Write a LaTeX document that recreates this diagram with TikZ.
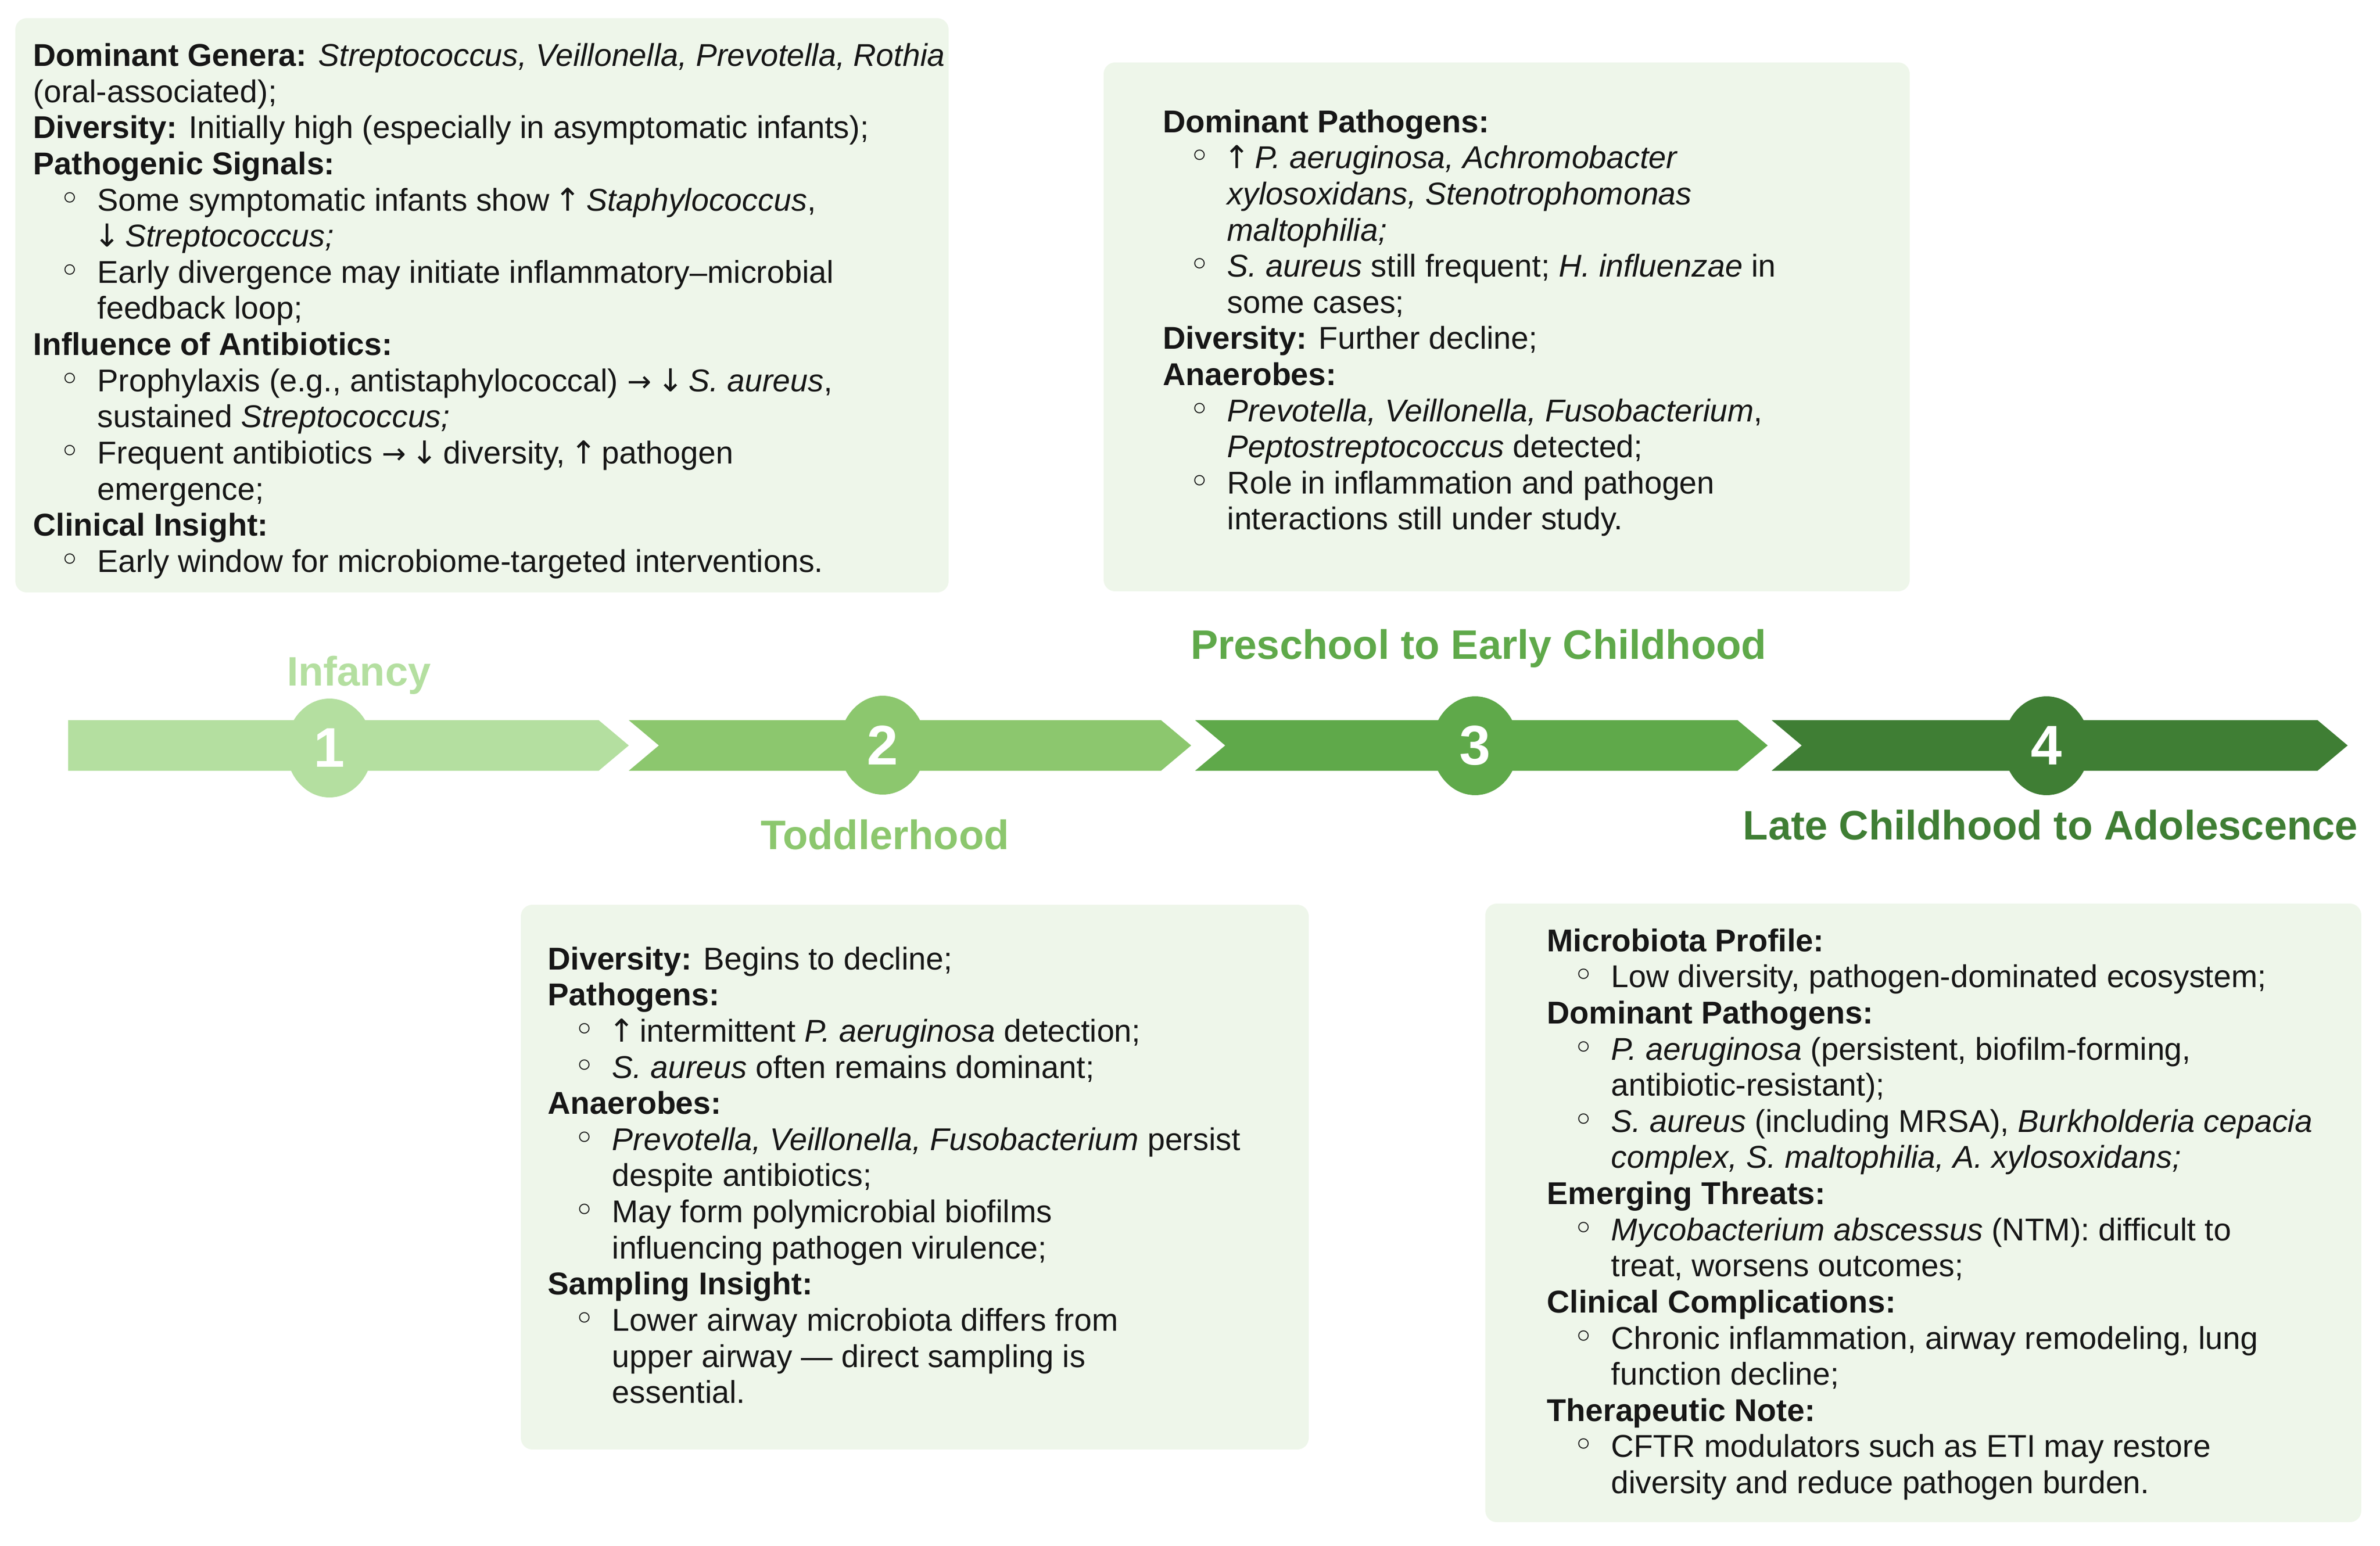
\documentclass[tikz,border=0pt]{standalone}
\usepackage{fontspec}
\setmainfont{Liberation Sans}
\newfontfamily\symfont{DejaVu Sans}
\usepackage{xcolor}
\definecolor{StageOne}{RGB}{180,223,160}
\definecolor{StageTwo}{RGB}{140,199,110}
\definecolor{StageThree}{RGB}{95,169,74}
\definecolor{StageFour}{RGB}{63,126,52}
\definecolor{PanelFill}{RGB}{238,246,234}
\definecolor{Ink}{RGB}{22,22,22}
\usetikzlibrary{shapes.geometric}
\newcommand{\itm}{\hspace*{4.6mm}\makebox[6.7mm][l]{\symfont\fontsize{18}{18.1}\selectfont ◦}}
\newcommand{\cnt}{\hspace*{11.3mm}}
\newcommand{\up}{\makebox[0.6em]{\symfont ↑}}
\newcommand{\down}{\makebox[0.6em]{\symfont ↓}}
\newcommand{\tto}{\makebox[0.8em]{\symfont\fontsize{14.5}{18.1}\selectfont →}}

\begin{document}
\begin{tikzpicture}[
	stagenum/.style={ellipse, minimum width=15.2mm, minimum height=17.4mm, inner sep=0pt, text=white, font=\fontsize{28}{30}\selectfont\bfseries},
	stagename/.style={anchor=base, font=\fontsize{20.6}{24}\selectfont\bfseries},
	panel/.style={fill=PanelFill, rounded corners=2mm},
	paneltext/.style={anchor=north west, inner sep=0pt, align=left, text=Ink, font=\fontsize{15.8}{18.1}\selectfont}]
		
		\useasboundingbox (0,0) rectangle (41.90,-27.22);
		
		% Panels
		\fill[panel] (0.27,-0.32) rectangle (16.70,-10.43);
		\fill[panel] (19.43,-1.10) rectangle (33.62,-10.41);
		\fill[panel] (9.17,-15.93) rectangle (23.04,-25.52);
		\fill[panel] (26.15,-15.91) rectangle (41.57,-26.80);
		
		% Timeline
		\fill[StageOne] (1.20,-12.68) -- (10.54,-12.68) -- (11.07,-13.125) -- (10.54,-13.57) -- (1.20,-13.57) -- cycle;
		\fill[StageTwo] (11.07,-12.68) -- (20.44,-12.68) -- (20.97,-13.125) -- (20.44,-13.57) -- (11.07,-13.57) -- (11.60,-13.125) -- cycle;
		\fill[StageThree] (21.04,-12.68) -- (30.59,-12.68) -- (31.12,-13.125) -- (30.59,-13.57) -- (21.04,-13.57) -- (21.57,-13.125) -- cycle;
		\fill[StageFour] (31.19,-12.68) -- (40.80,-12.68) -- (41.33,-13.125) -- (40.80,-13.57) -- (31.19,-13.57) -- (31.72,-13.125) -- cycle;
		
		% Numbers
		\node[stagenum, fill=StageOne] (num1) at (5.80,-13.17) {1};
		\node[stagenum, fill=StageTwo] (num2) at (15.54,-13.12) {2};
		\node[stagenum, fill=StageThree] (num3) at (25.97,-13.13) {3};
		\node[stagenum, fill=StageFour] (num4) at (36.03,-13.13) {4};
		
		% Stage names
		\node[stagename, text=StageOne] (name1) at (6.32,-12.07) {Infancy};
		\node[stagename, text=StageTwo] (name2) at (15.58,-14.95) {Toddlerhood};
		\node[stagename, text=StageThree] (name3) at (26.03,-11.60) {Preschool to Early Childhood};
		\node[stagename, text=StageFour] (name4) at (36.10,-14.78) {Late Childhood to Adolescence};
		
		% Panel texts
		\node[paneltext] (text1) at (0.58,-0.714) {\strut\textbf{Dominant Genera:} \textit{Streptococcus, Veillonella, Prevotella, Rothia}\\
			(oral-associated);\\
			\textbf{Diversity:} Initially high (especially in asymptomatic infants);\\
			\textbf{Pathogenic Signals:}\\
			\itm Some symptomatic infants show \up{} \textit{Staphylococcus},\\
			\cnt \down{} \textit{Streptococcus;}\\
			\itm Early divergence may initiate inflammatory–microbial\\
			\cnt feedback loop;\\
			\textbf{Influence of Antibiotics:}\\
			\itm Prophylaxis (e.g., antistaphylococcal) \tto{} \down{} \textit{S. aureus},\\
			\cnt sustained \textit{Streptococcus;}\\
			\itm Frequent antibiotics \tto{} \down{} diversity, \up{} pathogen\\
			\cnt emergence;\\
			\textbf{Clinical Insight:}\\
			\itm Early window for microbiome-targeted interventions.};
		
		\node[paneltext] (text3) at (20.47,-1.88) {\strut\textbf{Dominant Pathogens:}\\
			\itm \up{} \textit{P. aeruginosa, Achromobacter}\\
			\cnt \textit{xylosoxidans, Stenotrophomonas}\\
			\cnt \textit{maltophilia;}\\
			\itm \textit{S. aureus} still frequent; \textit{H. influenzae} in\\
			\cnt some cases;\\
			\textbf{Diversity:} Further decline;\\
			\textbf{Anaerobes:}\\
			\itm \textit{Prevotella, Veillonella, Fusobacterium},\\
			\cnt \textit{Peptostreptococcus} detected;\\
			\itm Role in inflammation and pathogen\\
			\cnt interactions still under study.};
		
		\node[paneltext] (text2) at (9.64,-16.62) {\strut\textbf{Diversity:} Begins to decline;\\
			\textbf{Pathogens:}\\
			\itm \up{} intermittent \textit{P. aeruginosa} detection;\\
			\itm \textit{S. aureus} often remains dominant;\\
			\textbf{Anaerobes:}\\
			\itm \textit{Prevotella, Veillonella, Fusobacterium} persist\\
			\cnt despite antibiotics;\\
			\itm May form polymicrobial biofilms\\
			\cnt influencing pathogen virulence;\\
			\textbf{Sampling Insight:}\\
			\itm Lower airway microbiota differs from\\
			\cnt upper airway — direct sampling is\\
			\cnt essential.};
		
		\node[paneltext] (text4) at (27.23,-16.30) {\strut\textbf{Microbiota Profile:}\\
			\itm Low diversity, pathogen-dominated ecosystem;\\
			\textbf{Dominant Pathogens:}\\
			\itm \textit{P. aeruginosa} (persistent, biofilm-forming,\\
			\cnt antibiotic-resistant);\\
			\itm \textit{S. aureus} (including MRSA), \textit{Burkholderia cepacia}\\
			\cnt \textit{complex, S. maltophilia, A. xylosoxidans;}\\
			\textbf{Emerging Threats:}\\
			\itm \textit{Mycobacterium abscessus} (NTM): difficult to\\
			\cnt treat, worsens outcomes;\\
			\textbf{Clinical Complications:}\\
			\itm Chronic inflammation, airway remodeling, lung\\
			\cnt function decline;\\
			\textbf{Therapeutic Note:}\\
			\itm CFTR modulators such as ETI may restore\\
			\cnt diversity and reduce pathogen burden.};
		
	\end{tikzpicture}
\end{document}
